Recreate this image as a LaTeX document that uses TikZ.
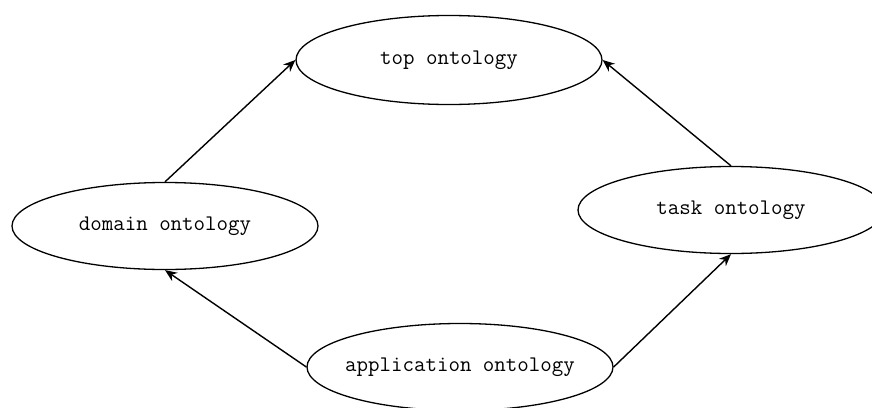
\documentclass[tikz,border=0pt]{standalone}
\usetikzlibrary{arrows.meta, shapes.geometric}

\begin{document}
\begin{tikzpicture}[x=1pt, y=-1pt,
  onto/.style={draw, ellipse, line width=1.3pt, minimum width=306pt, minimum height=87pt, inner xsep=-20pt, inner ysep=0pt, font=\ttfamily\fontsize{22.3}{24}\selectfont},
  link/.style={-{Stealth[length=12pt, width=10pt]}, line width=1.4pt}]
\useasboundingbox (0,0) rectangle (872,407);
\clip (0,0) rectangle (872,407);
\node [onto, minimum height=89pt] (top) at (449,60) {top ontology};
\node [onto] (domain) at (165,226) {domain ontology};
\node [onto] (task) at (731,210) {task ontology};
\node [onto] (app) at (460,367) {application ontology};
\draw [link] (domain.north) -- (top.west);
\draw [link] (task.north) -- (top.east);
\draw [link] (app.west) -- (domain.south);
\draw [link] (app.east) -- (task.south);
\end{tikzpicture}
\end{document}
